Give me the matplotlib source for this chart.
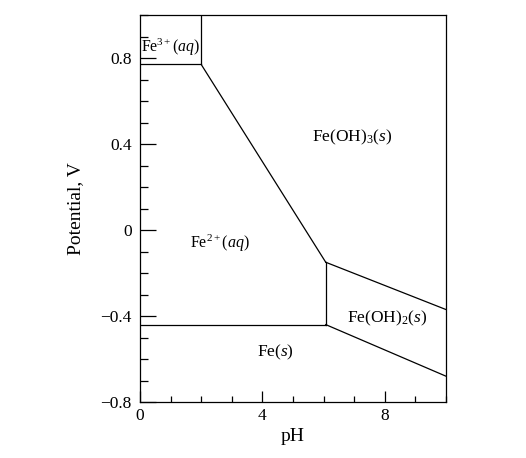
import matplotlib
matplotlib.use("Agg")
import matplotlib.pyplot as plt
from matplotlib.ticker import MultipleLocator

plt.rcParams['font.family'] = ['Liberation Serif', 'DejaVu Serif']
plt.rcParams['mathtext.fontset'] = 'custom'
plt.rcParams['mathtext.rm'] = 'Liberation Serif'
plt.rcParams['mathtext.it'] = 'Liberation Serif:italic'

## ================= DATA ================= ##
# boundary lines (pH, potential)
fe3_fe2_ph = [0, 2.0]
fe3_fe2_E = [0.77, 0.77]

fe3_feoh3_ph = [2.0, 2.0]
fe3_feoh3_E = [0.77, 1.0]

feoh3_fe2_ph = [2.0, 6.07]
feoh3_fe2_E = [0.77, -0.15]

fe2_feoh2_ph = [6.07, 6.07]
fe2_feoh2_E = [-0.15, -0.44]

fe2_fe_ph = [0, 6.07]
fe2_fe_E = [-0.44, -0.44]

feoh3_feoh2_ph = [6.07, 10]
feoh3_feoh2_E = [-0.15, -0.37]

feoh2_fe_ph = [6.07, 10]
feoh2_fe_E = [-0.44, -0.68]

region_labels = [r"Fe$^{3+}$($\mathit{aq}$)", r"Fe(OH)$_3$($\mathit{s}$)",
                 r"Fe$^{2+}$($\mathit{aq}$)", r"Fe(OH)$_2$($\mathit{s}$)",
                 r"Fe($\mathit{s}$)"]
label_ph = [1.0, 6.93, 2.6, 8.06, 4.44]
label_E = [0.85, 0.43, -0.06, -0.41, -0.57]
label_size = [11.3, 12.5, 11.5, 12.5, 12.5]

## ================= PLOT ================= ##
fig = plt.figure(figsize=(5.26, 4.58), dpi=100)
ax = fig.add_axes([140 / 526, 1 - 402 / 458, 306 / 526, 387 / 458])

segments = [(fe3_fe2_ph, fe3_fe2_E), (fe3_feoh3_ph, fe3_feoh3_E),
            (feoh3_fe2_ph, feoh3_fe2_E), (fe2_feoh2_ph, fe2_feoh2_E),
            (fe2_fe_ph, fe2_fe_E), (feoh3_feoh2_ph, feoh3_feoh2_E),
            (feoh2_fe_ph, feoh2_fe_E)]
for xs, ys in segments:
    ax.plot(xs, ys, color='black', linewidth=0.9)

for lab, x, y, fs in zip(region_labels, label_ph, label_E, label_size):
    ax.text(x, y, lab, ha='center', va='center', fontsize=fs)

ax.set_xlim(0, 10)
ax.set_ylim(-0.8, 1.0)
ax.xaxis.set_major_locator(MultipleLocator(4))
ax.xaxis.set_minor_locator(MultipleLocator(1))
ax.yaxis.set_major_locator(MultipleLocator(0.4))
ax.yaxis.set_minor_locator(MultipleLocator(0.1))
ax.set_yticks([-0.8, -0.4, 0, 0.4, 0.8])
ax.set_yticklabels(['\u22120.8', '\u22120.4', '0', '0.4', '0.8'])
ax.tick_params(which='both', direction='in', top=False, right=False,
               labelsize=12.5, width=0.9)
ax.tick_params(axis='y', which='major', length=11.5, pad=6)
ax.tick_params(axis='y', which='minor', length=6)
ax.tick_params(axis='x', which='major', length=8, pad=4)
ax.tick_params(axis='x', which='minor', length=4)
for sp in ax.spines.values():
    sp.set_linewidth(0.9)

ax.set_xlabel("pH", fontsize=14, labelpad=3)
ax.set_ylabel("Potential, V", fontsize=14, labelpad=12)

fig.savefig("out.png", dpi=100)
